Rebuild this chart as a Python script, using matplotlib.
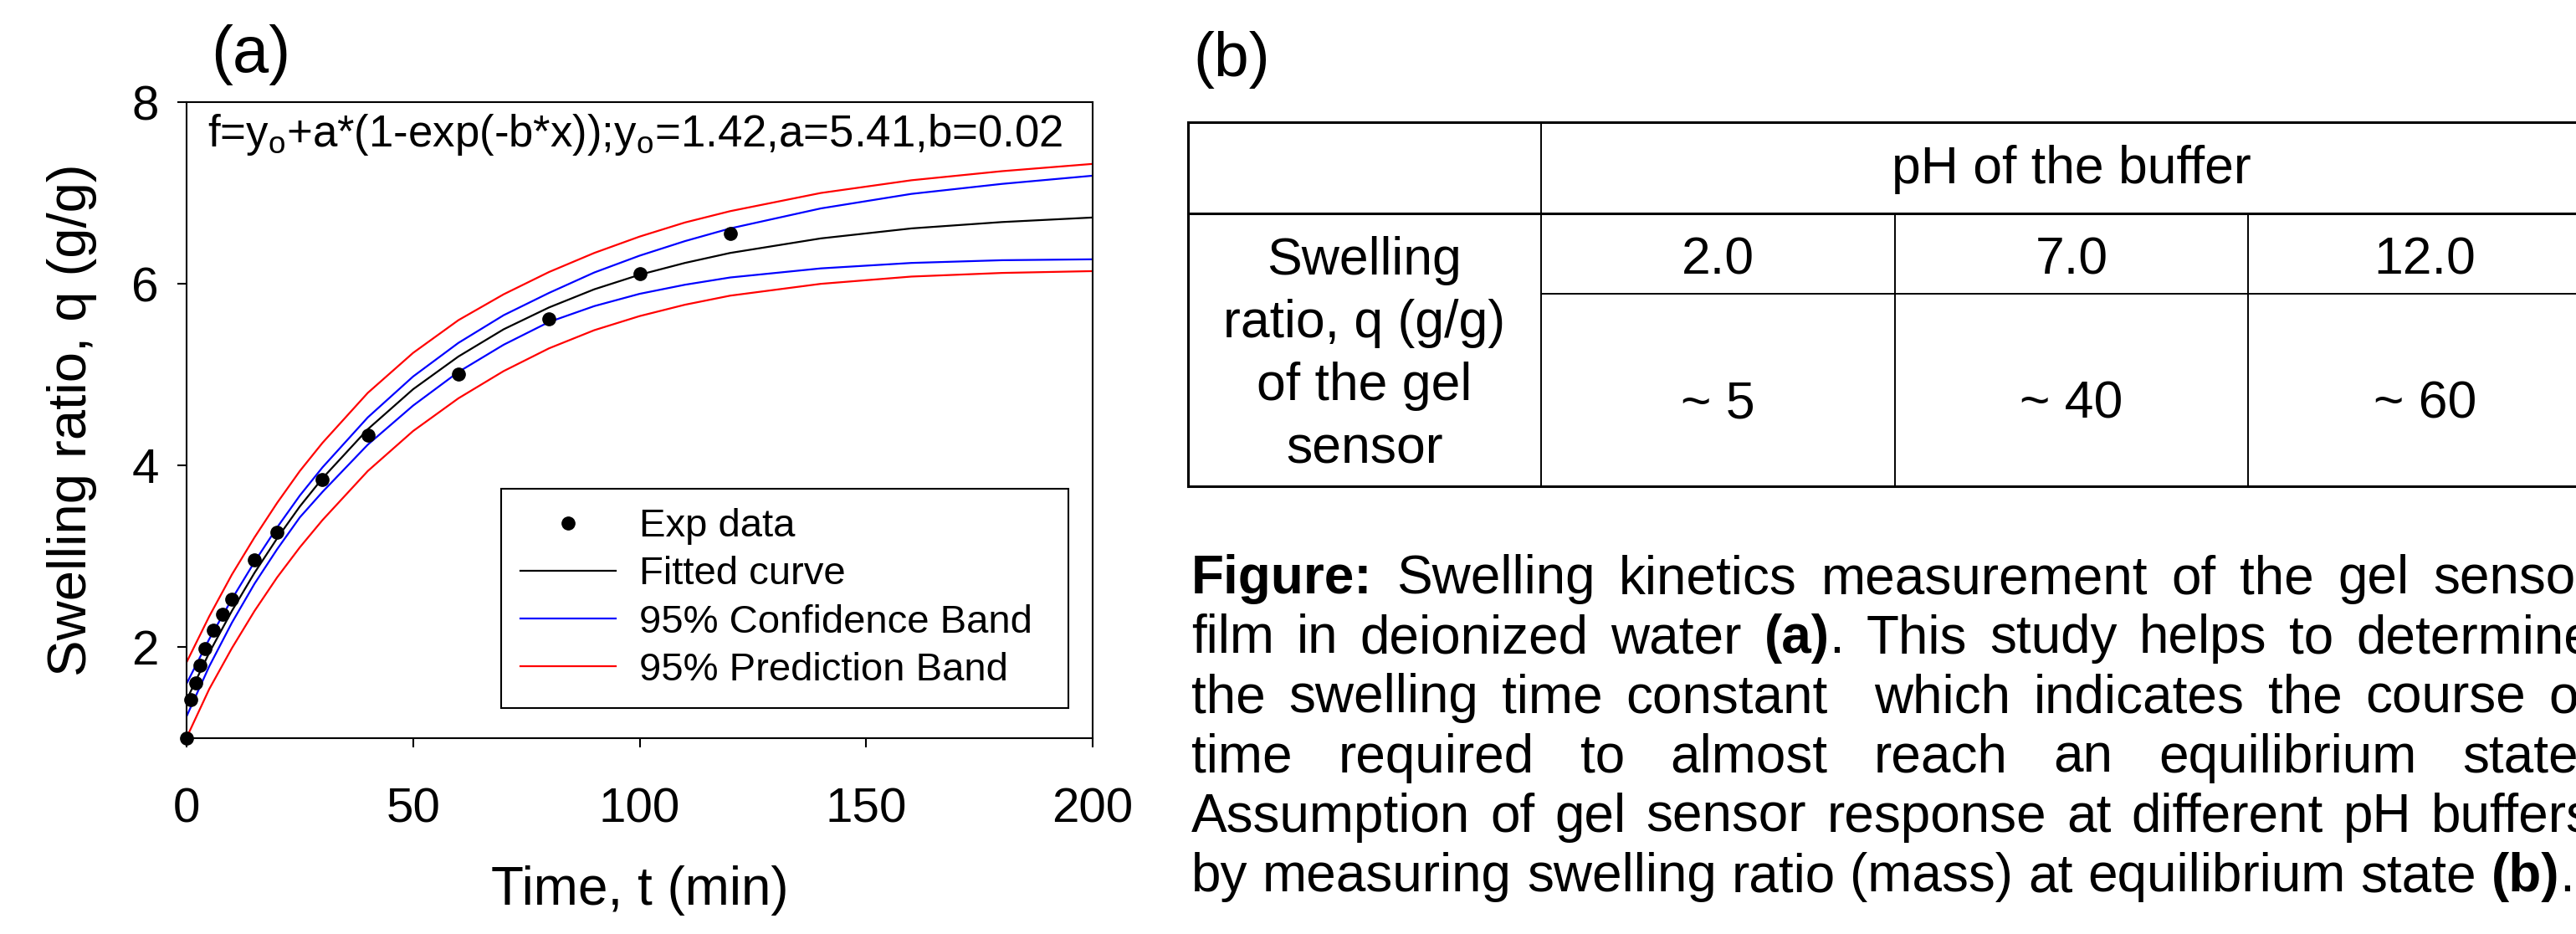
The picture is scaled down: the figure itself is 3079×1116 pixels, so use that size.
import re
import matplotlib
matplotlib.use('Agg')
import matplotlib.pyplot as plt
from matplotlib.lines import Line2D

plt.rcParams['font.family'] = ['Liberation Sans', 'DejaVu Sans']
plt.rcParams['mathtext.fontset'] = 'custom'
plt.rcParams['mathtext.rm'] = 'Liberation Sans'
plt.rcParams['mathtext.it'] = 'Liberation Sans:italic'
plt.rcParams['mathtext.bf'] = 'Liberation Sans:bold'

# ---- (a) swelling kinetics ----
t_exp = [0, 1, 2, 3, 4, 6, 8, 10, 15, 20, 30, 40, 60, 80, 100, 120]
q_exp = [1.00, 1.42, 1.61, 1.80, 1.99, 2.19, 2.36, 2.53, 2.96, 3.27, 3.85, 4.33, 5.01, 5.61, 6.11, 6.55]

t_curve = [0, 5, 10, 15, 20, 25, 30, 40, 50, 60, 70, 80, 90, 100, 110, 120, 140, 160, 180, 200]
q_fit   = [1.42, 1.94, 2.40, 2.82, 3.20, 3.55, 3.86, 4.40, 4.84, 5.20, 5.50, 5.74, 5.94, 6.10, 6.23, 6.34, 6.50, 6.61, 6.68, 6.73]
conf_hi = [1.60, 2.09, 2.53, 2.94, 3.32, 3.67, 3.98, 4.53, 4.98, 5.35, 5.655, 5.90, 6.125, 6.31, 6.47, 6.61, 6.83, 6.99, 7.10, 7.19]
conf_lo = [1.24, 1.79, 2.27, 2.70, 3.08, 3.43, 3.71, 4.23, 4.66, 5.03, 5.33, 5.58, 5.755, 5.89, 5.99, 6.07, 6.17, 6.23, 6.26, 6.27]
pred_hi = [1.835, 2.34, 2.80, 3.21, 3.59, 3.94, 4.25, 4.80, 5.24, 5.60, 5.885, 6.13, 6.34, 6.52, 6.675, 6.80, 7.00, 7.14, 7.24, 7.32]
pred_lo = [1.005, 1.54, 1.99, 2.40, 2.77, 3.10, 3.40, 3.94, 4.38, 4.74, 5.04, 5.29, 5.49, 5.645, 5.77, 5.87, 6.00, 6.08, 6.12, 6.14]

x_ticks = [0, 50, 100, 150, 200]
y_ticks = [2, 4, 6, 8]

# ---- (b) table ----
ph_values = ['2.0', '7.0', '12.0']
swelling = ['~ 5', '~ 40', '~ 60']
row_label = ['Swelling', 'ratio, q (g/g)', 'of the gel', 'sensor']

caption = [
    '{Figure:} Swelling kinetics measurement of the gel sensor',
    'film in deionized water {(a)}. This study helps to determine',
    'the swelling time constant  which indicates the course of',
    'time required to almost reach an equilibrium state.',
    'Assumption of gel sensor response at different pH buffers',
    'by measuring swelling ratio (mass) at equilibrium state {(b)}.',
]

W, H = 3079, 1116
fig = plt.figure(figsize=(W / 100, H / 100), dpi=100)

# overlay in pixel units for the right-hand panel
ov = fig.add_axes([0, 0, 1, 1])
ov.set_xlim(0, W)
ov.set_ylim(H, 0)
ov.axis('off')

ax = fig.add_axes([223 / W, 1 - 882 / H, 1083 / W, 760 / H])
lw = 1.6
ax.plot(t_curve, pred_hi, color='red', lw=lw)
ax.plot(t_curve, pred_lo, color='red', lw=lw)
ax.plot(t_curve, conf_hi, color='blue', lw=lw)
ax.plot(t_curve, conf_lo, color='blue', lw=lw)
ax.plot(t_curve, q_fit, color='black', lw=lw)
ax.plot(t_exp, q_exp, 'o', color='black', ms=11, clip_on=False, zorder=5)

ax.set_xlim(0, 200)
ax.set_ylim(1, 8)
ax.set_xticks(x_ticks)
ax.set_yticks(y_ticks)
ax.tick_params(direction='out', length=8, width=1.5, labelsize=42)
ax.tick_params(axis='x', pad=34)
ax.tick_params(axis='y', pad=16)
for s in ax.spines.values():
    s.set_linewidth(1.5)
ax.set_xlabel('Time, t (min)', fontsize=46)
ax.set_ylabel('Swelling ratio, q (g/g)', fontsize=47)
ax.xaxis.set_label_coords(0.5, -0.2)
ax.yaxis.set_label_coords(-0.099, 0.5)

ax.text(0.023, 0.930, r'f=y$_\mathregular{o}$+a*(1-exp(-b*x));y$_\mathregular{o}$=1.42,a=5.41,b=0.02',
        transform=ax.transAxes, fontsize=38, va='baseline', ha='left')

handles = [
    Line2D([], [], marker='o', color='black', ls='none', ms=11),
    Line2D([], [], color='black', lw=1.6),
    Line2D([], [], color='blue', lw=1.6),
    Line2D([], [], color='red', lw=1.6),
]
labels = ['Exp data', 'Fitted curve', '95% Confidence Band', '95% Prediction Band']
leg = ax.legend(handles, labels, loc='upper left', bbox_to_anchor=(0.347, 0.0447, 0.626, 0.348),
                mode='expand', fontsize=34, fancybox=False, framealpha=1, edgecolor='black',
                handlelength=2.4, handletextpad=0.6, labelspacing=0.28, borderpad=0.5,
                borderaxespad=0, numpoints=1)
leg.get_frame().set_linewidth(1.5)

fig.text(300 / W, 1 - 66 / H, '(a)', fontsize=56, ha='center', va='center')
fig.text(1472 / W, 1 - 72 / H, '(b)', fontsize=54, ha='center', va='center')

# ---- table ----
cols = [1420, 1842, 2265, 2687, 3110]
rows = [146, 255, 351, 581]
thick, thin = 2.2, 1.4
lk = dict(color='black', solid_capstyle='projecting')
ov.plot([cols[0], cols[-1]], [rows[0], rows[0]], lw=thick, **lk)
ov.plot([cols[0], cols[-1]], [rows[1], rows[1]], lw=thick, **lk)
ov.plot([cols[1], cols[-1]], [rows[2], rows[2]], lw=thin, **lk)
ov.plot([cols[0], cols[-1]], [rows[3], rows[3]], lw=thick, **lk)
ov.plot([cols[0], cols[0]], [rows[0], rows[3]], lw=thick, **lk)
ov.plot([cols[1], cols[1]], [rows[0], rows[3]], lw=thin, **lk)
for c in cols[2:4]:
    ov.plot([c, c], [rows[1], rows[3]], lw=thin, **lk)

fs_tab = 45
ov.text((cols[1] + cols[-1]) / 2, 219, 'pH of the buffer', fontsize=fs_tab, ha='center', va='baseline')
for i, (p, s) in enumerate(zip(ph_values, swelling)):
    xc = (cols[i + 1] + cols[i + 2]) / 2
    ov.text(xc, 327, p, fontsize=fs_tab, ha='center', va='baseline')
    ov.text(xc, 500, s, fontsize=fs_tab, ha='center', va='baseline')
for i, line in enumerate(row_label):
    ov.text((cols[0] + cols[1]) / 2, 328 + 75 * i, line, fontsize=fs_tab, ha='center', va='baseline')

# ---- justified caption ----
renderer = fig.canvas.get_renderer()
fs_cap = 46
x_left, x_right = 1424, 3100


def seg_width(s, weight):
    t = ov.text(0, 0, s, fontsize=fs_cap, fontweight=weight)
    w = t.get_window_extent(renderer).width
    t.remove()
    return w


space = seg_width('a a', 'normal') - seg_width('aa', 'normal')

for li, line in enumerate(caption):
    base = 709 + 71.2 * li
    words = []
    for word in line.split(' '):
        segs = []
        for part in re.split(r'(\{[^}]*\})', word):
            if not part:
                continue
            if part.startswith('{'):
                segs.append((part[1:-1], 'bold'))
            else:
                segs.append((part, 'normal'))
        widths = [seg_width(s, w) for s, w in segs]
        words.append((segs, widths))
    total = sum(sum(w) for _, w in words)
    if li < len(caption) - 1:
        gap = (x_right - x_left - total) / (len(words) - 1)
    else:
        gap = space
    x = x_left
    for segs, widths in words:
        for (s, w), sw in zip(segs, widths):
            ov.text(x, base, s, fontsize=fs_cap, fontweight=w, ha='left', va='baseline')
            x += sw
        x += gap

fig.savefig('out.png', dpi=100)
